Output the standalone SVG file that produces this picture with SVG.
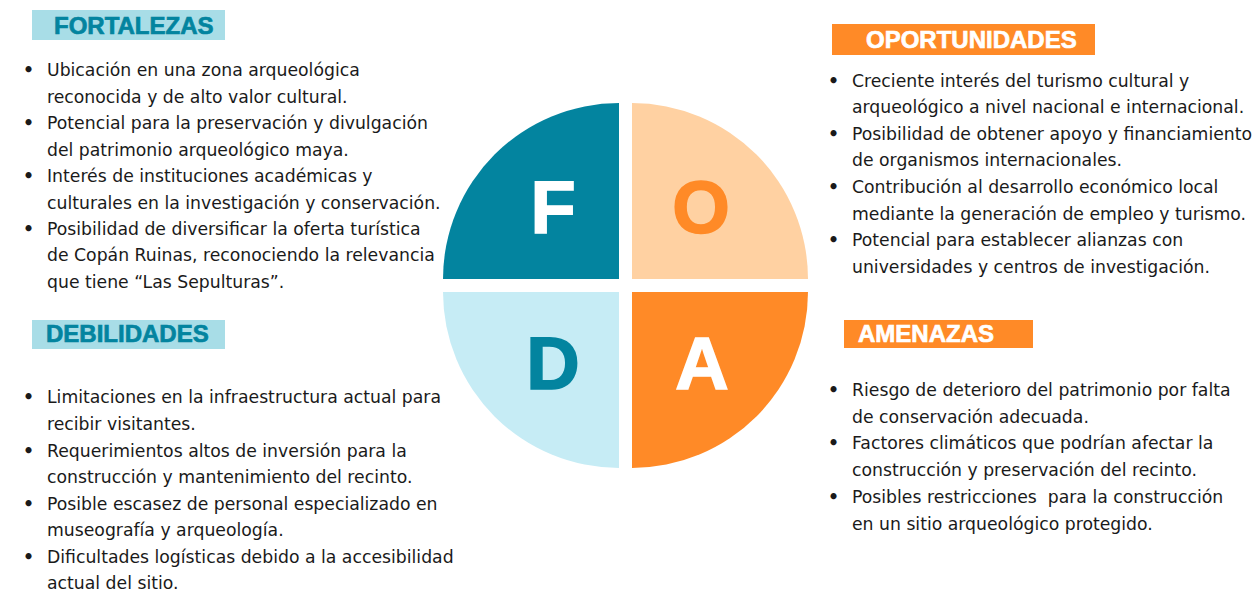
<svg xmlns="http://www.w3.org/2000/svg" width="1256" height="591" viewBox="0 0 1256 591">
<style>
.body{font-family:"DejaVu Sans","Liberation Sans",sans-serif;font-size:17.25px;fill:#1a1a1a}
.head{font-family:"Liberation Sans",Arial,sans-serif;font-weight:bold;font-size:24px;stroke-width:0.7px}
.big{font-family:"Liberation Sans",Arial,sans-serif;font-weight:bold;font-size:74px;text-anchor:middle;stroke-width:1.6px}
.teal{fill:#03849F}
.tealt{fill:#03849F;stroke:#03849F}
.oranget{fill:#FF8A27;stroke:#FF8A27}
.whitet{fill:#ffffff;stroke:#ffffff}
.orange{fill:#FF8A27}
.lblue{fill:#A8DDE7}
.dot{font-weight:bold}
</style>
<rect width="1256" height="591" fill="#ffffff"/>
<g id="wheel">
<g id="quad-F"><path class="teal" d="M619,279 L443,279 A176,176 0 0 1 619,103 Z"/><text class="big whitet" x="553" y="233">F</text></g>
<g id="quad-O"><path fill="#FFD1A2" d="M632,279 L632,103 A176,176 0 0 1 808,279 Z"/><text class="big oranget" x="701" y="233">O</text></g>
<g id="quad-D"><path fill="#C6ECF5" d="M619,292 L619,468 A176,176 0 0 1 443,292 Z"/><text class="big tealt" x="553" y="389">D</text></g>
<g id="quad-A"><path class="orange" d="M632,292 L808,292 A176,176 0 0 1 632,468 Z"/><text class="big whitet" x="702" y="389">A</text></g>
</g>
<g id="connectors"></g>
<g id="fortalezas">
<rect class="lblue" x="32" y="10" width="193" height="30"/>
<text class="head tealt" x="54" y="34">FORTALEZAS</text>
<g class="body">
<text class="dot" x="23" y="76">•</text><text x="47" y="76">Ubicación en una zona arqueológica</text>
<text x="47" y="103">reconocida y de alto valor cultural.</text>
<text class="dot" x="23" y="129">•</text><text x="47" y="129">Potencial para la preservación y divulgación</text>
<text x="47" y="156">del patrimonio arqueológico maya.</text>
<text class="dot" x="23" y="182">•</text><text x="47" y="182">Interés de instituciones académicas y</text>
<text x="47" y="209">culturales en la investigación y conservación.</text>
<text class="dot" x="23" y="235">•</text><text x="47" y="235">Posibilidad de diversificar la oferta turística</text>
<text x="47" y="261">de Copán Ruinas, reconociendo la relevancia</text>
<text x="47" y="288">que tiene “Las Sepulturas”.</text>
</g>
</g>
<g id="debilidades">
<rect class="lblue" x="32" y="320" width="193" height="29"/>
<text class="head tealt" x="46" y="342">DEBILIDADES</text>
<g class="body">
<text class="dot" x="23" y="403">•</text><text x="47" y="403">Limitaciones en la infraestructura actual para</text>
<text x="47" y="430">recibir visitantes.</text>
<text class="dot" x="23" y="457">•</text><text x="47" y="457">Requerimientos altos de inversión para la</text>
<text x="47" y="483">construcción y mantenimiento del recinto.</text>
<text class="dot" x="23" y="510">•</text><text x="47" y="510">Posible escasez de personal especializado en</text>
<text x="47" y="536">museografía y arqueología.</text>
<text class="dot" x="23" y="563">•</text><text x="47" y="563">Dificultades logísticas debido a la accesibilidad</text>
<text x="47" y="589">actual del sitio.</text>
</g>
</g>
<g id="oportunidades">
<rect class="orange" x="832" y="24" width="263" height="31"/>
<text class="head whitet" x="866" y="48">OPORTUNIDADES</text>
<g class="body">
<text class="dot" x="828" y="87">•</text><text x="852" y="87">Creciente interés del turismo cultural y</text>
<text x="852" y="113">arqueológico a nivel nacional e internacional.</text>
<text class="dot" x="828" y="140">•</text><text x="852" y="140">Posibilidad de obtener apoyo y financiamiento</text>
<text x="852" y="166">de organismos internacionales.</text>
<text class="dot" x="828" y="193">•</text><text x="852" y="193">Contribución al desarrollo económico local</text>
<text x="852" y="220">mediante la generación de empleo y turismo.</text>
<text class="dot" x="828" y="246">•</text><text x="852" y="246">Potencial para establecer alianzas con</text>
<text x="852" y="273">universidades y centros de investigación.</text>
</g>
</g>
<g id="amenazas">
<rect class="orange" x="844" y="320" width="189" height="28"/>
<text class="head whitet" x="858" y="342">AMENAZAS</text>
<g class="body">
<text class="dot" x="828" y="396">•</text><text x="852" y="396">Riesgo de deterioro del patrimonio por falta</text>
<text x="852" y="423">de conservación adecuada.</text>
<text class="dot" x="828" y="449">•</text><text x="852" y="449">Factores climáticos que podrían afectar la</text>
<text x="852" y="476">construcción y preservación del recinto.</text>
<text class="dot" x="828" y="503">•</text><text x="852" y="503" xml:space="preserve">Posibles restricciones  para la construcción</text>
<text x="852" y="530">en un sitio arqueológico protegido.</text>
</g>
</g>
</svg>
